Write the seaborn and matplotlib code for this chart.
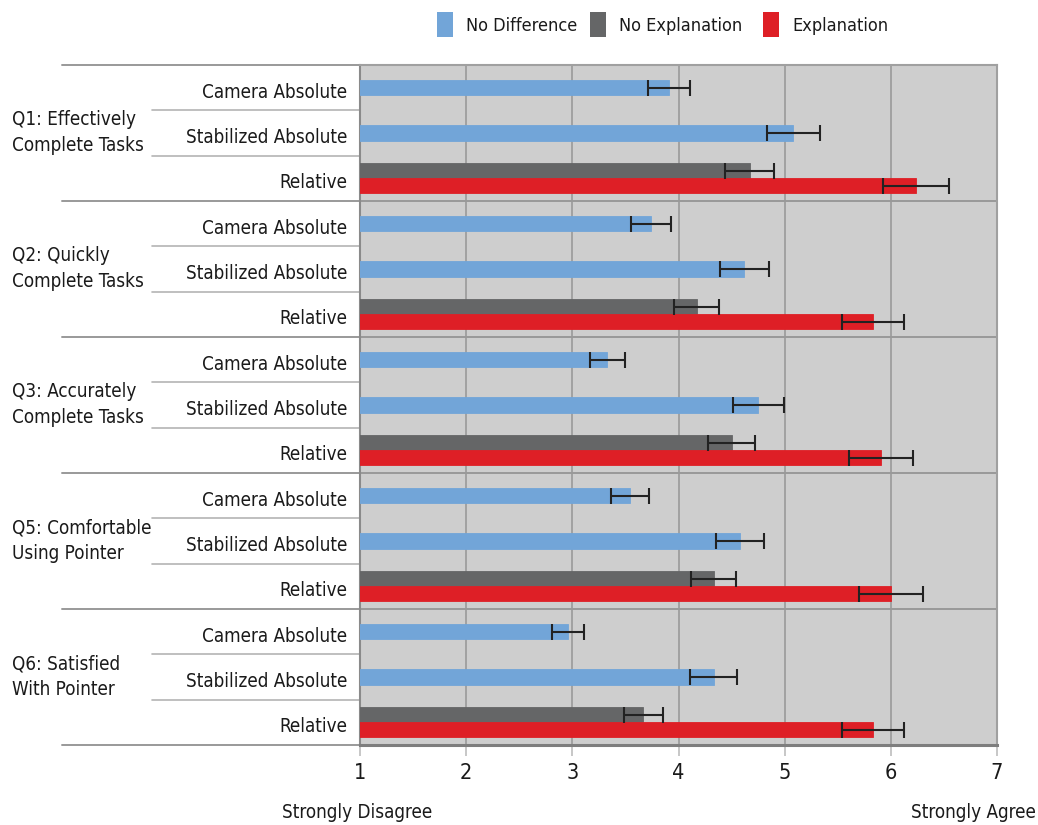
import numpy as np
import pandas as pd
import matplotlib
matplotlib.use("Agg")
import matplotlib.pyplot as plt
from matplotlib import font_manager as fm
from matplotlib.patches import Rectangle
from matplotlib.lines import Line2D
import seaborn as sns

# ---- data -------------------------------------------------------------
questions = [
    "Q1: Effectively\nComplete Tasks",
    "Q2: Quickly\nComplete Tasks",
    "Q3: Accurately\nComplete Tasks",
    "Q5: Comfortable\nUsing Pointer",
    "Q6: Satisfied\nWith Pointer",
]
conditions = ["Camera Absolute", "Stabilized Absolute", "Relative"]
series_names = ["No Difference", "No Explanation", "Explanation"]

camera_mean = [3.91, 3.74, 3.33, 3.54, 2.96]
camera_err = [0.20, 0.19, 0.165, 0.18, 0.15]
stabilized_mean = [5.08, 4.62, 4.75, 4.58, 4.33]
stabilized_err = [0.25, 0.23, 0.24, 0.23, 0.22]
no_expl_mean = [4.67, 4.17, 4.50, 4.33, 3.67]
no_expl_err = [0.23, 0.21, 0.22, 0.215, 0.18]
expl_mean = [6.24, 5.83, 5.91, 6.00, 5.83]
expl_err = [0.31, 0.29, 0.30, 0.30, 0.29]

x_ticks = [1, 2, 3, 4, 5, 6, 7]
x_left_label = "Strongly Disagree"
x_right_label = "Strongly Agree"

# ---- style ------------------------------------------------------------
BLUE = "#72A5D8"
GRAY = "#656667"
RED = "#DE1F26"
PANEL = "#CECECE"

sns.set_theme(style="white")
names = {f.name for f in fm.fontManager.ttflist}
if "Liberation Sans Narrow" in names:
    plt.rcParams["font.family"] = ["Liberation Sans Narrow", "DejaVu Sans"]
    FS, FS_TICK, FS_LEG = 16, 17, 15.5
elif any(f.name == "DejaVu Sans" and str(f.stretch) in ("condensed", "semi-condensed")
         for f in fm.fontManager.ttflist):
    plt.rcParams["font.family"] = ["DejaVu Sans"]
    plt.rcParams["font.stretch"] = "condensed"
    FS, FS_TICK, FS_LEG = 13.5, 15.5, 13
else:
    plt.rcParams["font.family"] = ["Liberation Sans", "DejaVu Sans"]
    FS, FS_TICK, FS_LEG = 14, 16, 13.5
TXT = "#1a1a1a"

W, H = 1038, 825
fig = plt.figure(figsize=(W / 100, H / 100), dpi=100)
L, R, T, B = 360, 997, 65, 745
ax = fig.add_axes([L / W, 1 - B / H, (R - L) / W, (B - T) / H])
ax.set_facecolor(PANEL)

# ---- row positions ----------------------------------------------------
n_q = len(questions)
rows_per_q = len(conditions)
bar_h = 0.333
cam_pos = [rows_per_q * g + 0 for g in range(n_q)]
stab_pos = [rows_per_q * g + 1 for g in range(n_q)]
rel_pos = [rows_per_q * g + 2 for g in range(n_q)]
noexp_pos = [p - bar_h / 2 for p in rel_pos]
exp_pos = [p + bar_h / 2 for p in rel_pos]

nodiff = pd.DataFrame({
    "pos": cam_pos + stab_pos,
    "score": camera_mean + stabilized_mean,
    "err": camera_err + stabilized_err,
}).sort_values("pos")
noexp = pd.DataFrame({"pos": noexp_pos, "score": no_expl_mean, "err": no_expl_err})
expl = pd.DataFrame({"pos": exp_pos, "score": expl_mean, "err": expl_err})

for df, col in [(nodiff, BLUE), (noexp, GRAY), (expl, RED)]:
    spacing = np.min(np.diff(np.sort(df["pos"].values)))
    sns.barplot(data=df, x="score", y="pos", orient="y", native_scale=True,
                color=col, saturation=1, width=bar_h / spacing, errorbar=None,
                edgecolor=col, linewidth=0.6, ax=ax, zorder=3)
    ax.errorbar(df["score"], df["pos"], xerr=df["err"], fmt="none",
                ecolor="#222222", elinewidth=1.5, capsize=5.5, capthick=1.5,
                zorder=4)

# ---- axes ---------------------------------------------------------------
n_rows = n_q * rows_per_q
ax.set_xlim(x_ticks[0], x_ticks[-1])
ax.set_ylim(n_rows - 0.5, -0.5)
ax.set_xticks(x_ticks)
ax.set_xticklabels([str(t) for t in x_ticks], fontsize=FS_TICK, color=TXT)
ax.set_yticks([])
ax.set_xlabel("")
ax.set_ylabel("")
ax.tick_params(axis="x", length=8, width=1.2, color="#BDBDBD", pad=5,
               bottom=True)
ax.xaxis.grid(True, color="#9A9A9A", linewidth=1.2, zorder=0)
ax.set_axisbelow(True)
for side, c, lw in [("left", "#8A8A8A", 1.5), ("bottom", "#7E7E7E", 2.2),
                    ("top", "#A0A0A0", 1.5), ("right", "#A0A0A0", 1.5)]:
    ax.spines[side].set_visible(True)
    ax.spines[side].set_color(c)
    ax.spines[side].set_linewidth(lw)

# ---- row labels and separators ----------------------------------------
ytr = ax.get_yaxis_transform()
x_major = (62 - L) / (R - L)
x_minor = (152 - L) / (R - L)
for g in range(n_q + 1):
    yb = rows_per_q * g - 0.5
    ax.add_line(Line2D([x_major, 1], [yb, yb], transform=ytr, color="#999999",
                       linewidth=1.4, clip_on=False, zorder=2))
for g in range(n_q):
    for k in (1, 2):
        yb = rows_per_q * g + k - 0.5
        ax.add_line(Line2D([x_minor, 0], [yb, yb], transform=ytr,
                           color="#B4B4B4", linewidth=1.2, clip_on=False))
    ax.text((12 - L) / (R - L), rows_per_q * g + 0.99, questions[g],
            transform=ytr, ha="left", va="center", fontsize=FS, color=TXT,
            linespacing=1.45)
    for k, cond in enumerate(conditions):
        ax.text((347 - L) / (R - L), rows_per_q * g + k + 0.1, cond,
                transform=ytr, ha="right", va="center", fontsize=FS, color=TXT)

# ---- end labels of the scale ------------------------------------------
fig.text(357 / W, 1 - 812 / H, x_left_label, ha="center", va="center",
         fontsize=FS, color=TXT)
fig.text(1036 / W, 1 - 812 / H, x_right_label, ha="right", va="center",
         fontsize=FS, color=TXT)

# ---- legend -------------------------------------------------------------
legend_x = [437, 590, 763]
for xs, name, col in zip(legend_x, series_names, [BLUE, GRAY, RED]):
    fig.patches.append(Rectangle((xs / W, 1 - 37 / H), 16 / W, 25 / H,
                                 transform=fig.transFigure, facecolor=col,
                                 edgecolor="none"))
    fig.text((xs + 29) / W, 1 - 26 / H, name, ha="left", va="center",
             fontsize=FS_LEG, color=TXT)

fig.savefig("out.png", dpi=100, facecolor="white")
